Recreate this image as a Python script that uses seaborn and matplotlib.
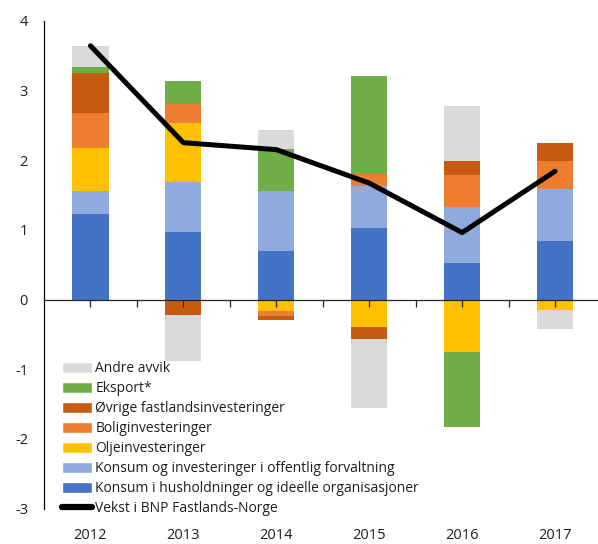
import numpy as np
import matplotlib
matplotlib.use("Agg")
import matplotlib.pyplot as plt
from matplotlib.patches import Patch
from matplotlib.lines import Line2D
import seaborn as sns

years = ["2012", "2013", "2014", "2015", "2016", "2017"]

# bidrag til vekst, prosentenheter
husholdninger = [1.23, 0.97, 0.70, 1.02, 0.53, 0.84]
offentlig = [0.33, 0.71, 0.85, 0.61, 0.79, 0.75]
olje = [0.61, 0.85, -0.17, -0.39, -0.75, -0.15]
bolig = [0.51, 0.27, -0.07, 0.17, 0.47, 0.39]
ovrige = [0.57, -0.22, -0.06, -0.17, 0.19, 0.27]
eksport = [0.08, 0.34, 0.61, 1.40, -1.08, 0.0]
andre = [0.31, -0.66, 0.27, -0.99, 0.80, -0.28]
bnp = [3.64, 2.25, 2.15, 1.67, 0.96, 1.84]

series = [
    ("Konsum i husholdninger og ideelle organisasjoner", husholdninger, "#4472C4"),
    ("Konsum og investeringer i offentlig forvaltning", offentlig, "#8FAADC"),
    ("Oljeinvesteringer", olje, "#FFC000"),
    ("Boliginvesteringer", bolig, "#ED7D31"),
    ("Øvrige fastlandsinvesteringer", ovrige, "#C55A11"),
    ("Eksport*", eksport, "#70AD47"),
    ("Andre avvik", andre, "#D9D9D9"),
]

sns.set_style("white")
plt.rcParams["font.family"] = ["Open Sans", "DejaVu Sans"]
plt.rcParams["font.size"] = 10
plt.rcParams["axes.unicode_minus"] = False
text_col = "#1f1f1f"

fig = plt.figure(figsize=(5.98, 5.44), dpi=100)
ax = fig.add_axes([44 / 598, 1 - 508.6 / 544, 557.5 / 598, 487.9 / 544])

pos_base = np.zeros(len(years))
neg_base = np.zeros(len(years))
for name, vals, col in series:
    vals = np.array(vals)
    bottom = np.where(vals >= 0, pos_base, neg_base)
    sns.barplot(x=years, y=vals, bottom=bottom, color=col, width=0.39,
                saturation=1, ax=ax, linewidth=0, zorder=2)
    pos_base = pos_base + np.clip(vals, 0, None)
    neg_base = neg_base + np.clip(vals, None, 0)

sns.lineplot(x=np.arange(len(years)), y=bnp, color="black", linewidth=3.6,
             solid_capstyle="round", ax=ax, zorder=4)

ax.set_xlim(-0.5, len(years) - 0.5)
ax.set_ylim(-3, 4)
ax.set_yticks(range(-3, 5))
ax.set_xlabel("")
ax.set_ylabel("")
for s in ["top", "right", "bottom"]:
    ax.spines[s].set_visible(False)
ax.spines["left"].set_color("black")
ax.spines["left"].set_linewidth(0.9)
ax.tick_params(axis="y", direction="in", length=5, width=0.9, pad=11.5,
               labelcolor=text_col, labelsize=10.5)
ax.tick_params(axis="x", length=0, pad=14, labelcolor=text_col, labelsize=10.5)

# x-akse ved null
ax2 = ax.twiny()
ax2.set_xlim(ax.get_xlim())
ax2.xaxis.tick_bottom()
ax2.spines["bottom"].set_position(("data", 0))
for s in ["top", "right", "left"]:
    ax2.spines[s].set_visible(False)
ax2.spines["bottom"].set_linewidth(0.9)
ax2.set_xticks(np.arange(-0.5, len(years), 0.5)[1:-1])
ax2.tick_params(axis="x", direction="out", length=5, width=0.9, labelbottom=False)

handles = [Patch(facecolor=col, label=name) for name, _, col in series[::-1]]
handles.append(Line2D([0], [0], color="black", linewidth=4.5, label="Vekst i BNP Fastlands-Norge"))
leg = ax.legend(handles=handles, loc="lower left", bbox_to_anchor=(0.032, -0.016),
                frameon=False, fontsize=10, handlelength=2.2, handleheight=0.8,
                handletextpad=0.2, labelspacing=0.36, borderpad=0, borderaxespad=0)
for t in leg.get_texts():
    t.set_color(text_col)

fig.savefig("out.png", dpi=100)
